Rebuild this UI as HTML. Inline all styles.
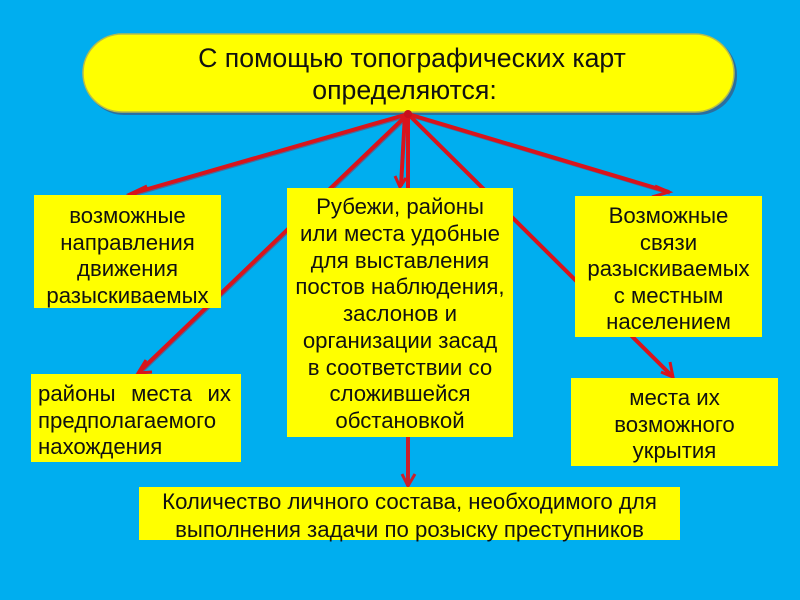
<!DOCTYPE html>
<html><head><meta charset="utf-8">
<style>
html,body{margin:0;padding:0}
body{width:800px;height:600px;background:#00aeef;position:relative;overflow:hidden;font-family:"Liberation Sans",sans-serif;color:#111}
.b{position:absolute;background:#ffff00;text-align:center;box-sizing:border-box;font-size:22.2px;line-height:26.6px;white-space:nowrap}
.t{position:absolute;font-size:26.7px;line-height:34px;white-space:nowrap;transform:translateX(-50%)}
svg{position:absolute;left:0;top:0}
</style></head><body>
<svg width="800" height="600">
<rect x="85" y="36" width="652" height="79" rx="39" fill="#2a6f9f"/>
<rect x="83" y="34" width="651" height="78" rx="39" fill="#ffff00" stroke="#b4bc50" stroke-width="1.500"/>
<g fill="none" stroke="#4a6a9a" stroke-width="3" transform="translate(1,1.500)">
<path d="M408 114L134 193"/>
<path d="M408 114L140 371"/>
<path d="M408 114L669 192"/>
<path d="M408 114L672 376"/>
</g>
<g fill="none" stroke="#d8141c" stroke-width="4">
<path d="M408 114L134 193"/>
<path d="M408 114L140 371"/>
<path d="M408 114L669 192"/>
<path d="M408 114L672 376"/>
<path d="M408 114V188"/>
<path d="M405 114L401 186"/>
<path d="M408 437V486" stroke="#c8202c"/>
</g>
<g fill="none" stroke="#d8141c" stroke-width="3">
<path d="M147 186L130 194L143 198"/>
<path d="M146 360L138 373L152 372"/>
<path d="M655 186L669 192L652 197"/>
<path d="M661 372L673 377L670 362"/>
<path d="M395 176L400 187L406 178"/>
<path d="M402 474L408 486L415 474" stroke="#c8202c"/>
</g>
<circle cx="408" cy="114" r="4" fill="#c8101c"/>
</svg>
<div class="t" style="left:412px;top:41px">С помощью топографических карт</div>
<div class="t" style="left:404.500px;top:73px">определяются:</div>
<div class="b" style="left:34px;top:195px;width:187px;height:113px;padding-top:8px">возможные<br>направления<br>движения<br>разыскиваемых</div>
<div class="b" style="left:31px;top:374px;width:210px;height:88px;padding:7px 10px 0 7px;text-align:left"><div style="display:flex;justify-content:space-between"><span>районы</span><span>места</span><span>их</span></div>предполагаемого<br>нахождения</div>
<div class="b" style="left:287px;top:188px;width:226px;height:249px;padding-top:6px;line-height:26.750px">Рубежи, районы<br>или места удобные<br>для выставления<br>постов наблюдения,<br>заслонов и<br>организации засад<br>в соответствии со<br>сложившейся<br>обстановкой</div>
<div class="b" style="left:575px;top:196px;width:187px;height:141px;padding-top:7px">Возможные<br>связи<br>разыскиваемых<br>с местным<br>населением</div>
<div class="b" style="left:571px;top:378px;width:207px;height:88px;padding-top:7px">места их<br>возможного<br>укрытия</div>
<div class="b" style="left:139px;top:487px;width:541px;height:53px;padding-top:1px;line-height:28px">Количество личного состава, необходимого для<br>выполнения задачи по розыску преступников</div>
</body></html>
